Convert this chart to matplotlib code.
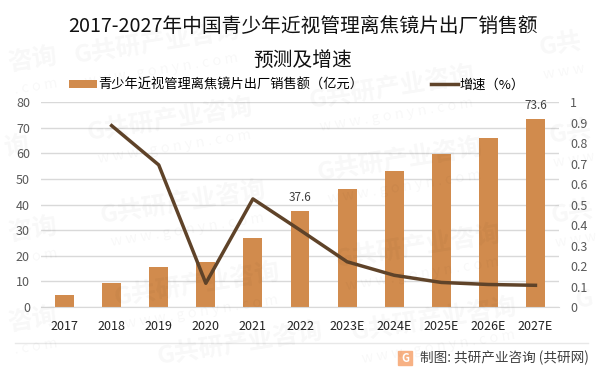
import matplotlib
matplotlib.use('Agg')
import matplotlib.pyplot as plt
from matplotlib.patches import Rectangle

plt.rcParams['font.family'] = ['Noto Sans CJK SC', 'DejaVu Sans']

years = ['2017', '2018', '2019', '2020', '2021', '2022', '2023E', '2024E', '2025E', '2026E', '2027E']
sales = [4.7, 9.4, 15.7, 17.7, 27.0, 37.6, 46.0, 53.0, 59.6, 66.2, 73.6]
growth_years = years[1:]
growth = [0.886, 0.694, 0.116, 0.528, 0.376, 0.221, 0.155, 0.12, 0.11, 0.106]
left_ticks = [0, 10, 20, 30, 40, 50, 60, 70, 80]
right_ticks = [0, 0.1, 0.2, 0.3, 0.4, 0.5, 0.6, 0.7, 0.8, 0.9, 1]
right_labels = ['0', '0.1', '0.2', '0.3', '0.4', '0.5', '0.6', '0.7', '0.8', '0.9', '1']
labelled = ['2022', '2027E']

W, H = 602, 374
bar_color = '#D18B4D'
line_color = '#5F4329'

fig = plt.figure(figsize=(W / 100, H / 100), dpi=100)
ax = fig.add_axes([41 / W, 1 - 307 / H, 518 / W, 204.7 / H])
ax.patch.set_alpha(0)

x = list(range(len(years)))
bars = ax.bar(x, sales, width=0.4, color=bar_color, label='青少年近视管理离焦镜片出厂销售额（亿元）', zorder=2)
ax.set_xlim(-0.5, 10.5)
ax.set_ylim(0, 80)
ax.set_xticks(x)
ax.set_xticklabels(years, fontsize=9, color='#222222')
ax.set_yticks(left_ticks)
ax.tick_params(axis='y', length=0, pad=8, labelsize=9, labelcolor='#595959')
ax.tick_params(axis='x', length=0, pad=9)
ax.grid(True, axis='y', color='#D9D9D9', linewidth=1)
ax.set_axisbelow(True)
for s in ['top', 'left', 'right']:
    ax.spines[s].set_visible(False)
ax.spines['bottom'].set_color('#D9D9D9')

for name, b, v in zip(years, bars, sales):
    if name in labelled:
        ax.annotate(str(v), (b.get_x() + b.get_width() / 2, v), xytext=(0, 5), textcoords='offset points',
                    ha='center', va='bottom', fontsize=8.5, color='#404040')

ax2 = ax.twinx()
ax2.patch.set_alpha(0)
line, = ax2.plot(x[1:], growth, color=line_color, linewidth=2.5, label='增速（%）', zorder=3)
ax2.set_ylim(0, 1.0)
ax2.set_yticks(right_ticks)
ax2.set_yticklabels(right_labels)
ax2.tick_params(axis='y', length=0, pad=8, labelsize=9, labelcolor='#595959')
for s in ax2.spines.values():
    s.set_visible(False)

fig.legend(handles=[bars, line], ncol=2, loc='center left', bbox_to_anchor=(64 / W, 1 - 85 / H),
           frameon=False, fontsize=9.5, columnspacing=5.1, handlelength=2.1, handletextpad=0.1, borderaxespad=0,
           handleheight=0.5)

fig.text(303 / W, 1 - 27 / H, '2017-2027年中国青少年近视管理离焦镜片出厂销售额', ha='center', va='center',
         fontsize=14.2, color='#111111')
fig.text(303 / W, 1 - 60 / H, '预测及增速', ha='center', va='center', fontsize=14.2, color='#111111')

# footer
fig.add_artist(plt.Line2D([15 / W, 588 / W], [1 - 343 / H, 1 - 343 / H], color='#E8E8E8', linewidth=1))
fig.add_artist(Rectangle((398 / W, 1 - 365 / H), 14 / W, 14 / H, color='#F7B184', transform=fig.transFigure))
fig.text(405 / W, 1 - 358 / H, 'G', ha='center', va='center', fontsize=8, fontweight='bold', color='white')
fig.text(420 / W, 1 - 358 / H, '制图: 共研产业咨询 (共研网)', ha='left', va='center', fontsize=9.8, color='#404040')

# watermark, the ones at the picture edge only show a piece of the text
marks = [(157, 43, 'G共研产业咨询', 'w w w . g o n y n . c o m'),
         (392, 88, 'G共研产业咨询', 'w w w . g o n y n . c o m'),
         (170, 120, 'G共研产业咨询', 'w w w . g o n y n . c o m'),
         (183, 203, 'G共研产业咨询', 'w w w . g o n y n . c o m'),
         (197, 285, 'G共研产业咨询', 'w w w . g o n y n . c o m'),
         (400, 160, 'G共研产业咨询', 'w w w . g o n y n . c o m'),
         (418, 247, 'G共研产业咨询', 'w w w . g o n y n . c o m'),
         (434, 320, 'G共研产业咨询', 'w w w . g o n y n . c o m'),
         (240, 344, 'G共研产业咨询', ''),
         (560, 45, 'G共', 'w w w'),
         (32, 60, '咨询', '. c o m'),
         (16, 147, '询', ''),
         (32, 230, '咨询', '. c o m'),
         (32, 320, '咨询', '. c o m'),
         (570, 133, 'G共', 'w w w'),
         (572, 213, 'G共', 'w w w'),
         (584, 300, 'G', '')]
for mx, my, cn, url in marks:
    fig.text(mx / W, 1 - my / H, cn, ha='center', va='center', rotation=9, fontsize=18,
             fontweight='bold', color='black', alpha=0.03)
    if url:
        fig.text((mx + 4) / W, 1 - (my + 27) / H, url, ha='center', va='center', rotation=9,
                 fontsize=10.5, color='black', alpha=0.03)

plt.savefig('out.png', dpi=100)
